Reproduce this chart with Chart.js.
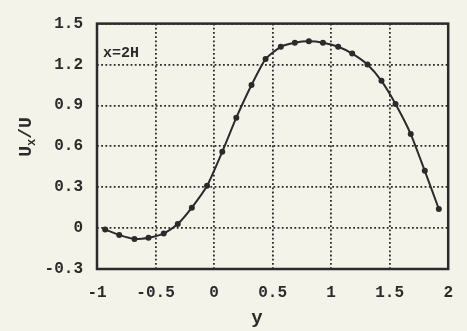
<!DOCTYPE html>
<html>
<head>
<meta charset="utf-8">
<script src="https://cdn.jsdelivr.net/npm/chart.js@4/dist/chart.umd.min.js"></script>
<style>
  html, body { margin: 0; padding: 0; background: #f3f3ea; }
  #wrap { width: 467px; height: 331px; }
</style>
</head>
<body>
<div id="wrap"><canvas id="profileChart" width="467" height="331"></canvas></div>
<script>
// profile at x=2H
const yPos = [-0.93, -0.81, -0.68, -0.56, -0.43, -0.31, -0.19, -0.06, 0.07, 0.19, 0.32, 0.44,
              0.57, 0.69, 0.81, 0.93, 1.06, 1.18, 1.31, 1.43, 1.55, 1.68, 1.80, 1.92];
const uRatio = [-0.01, -0.05, -0.08, -0.07, -0.04, 0.03, 0.15, 0.31, 0.56, 0.81, 1.05, 1.24,
                1.33, 1.36, 1.37, 1.36, 1.33, 1.28, 1.20, 1.08, 0.91, 0.69, 0.42, 0.14];
const xTicks = [-1, -0.5, 0, 0.5, 1, 1.5, 2];
const yTicks = [-0.3, 0, 0.3, 0.6, 0.9, 1.2, 1.5];
const caseLabel = "x=2H";

const ink = "#2b2b2b";
const font = "Liberation Mono";

// paper background + frame + the extra text
const paperPlugin = {
  id: "paper",
  beforeDraw(chart) {
    const c = chart.ctx;
    c.save();
    c.fillStyle = "#f3f3ea";
    c.fillRect(0, 0, chart.width, chart.height);
    c.restore();
  },
  afterDraw(chart) {
    const c = chart.ctx;
    const a = chart.chartArea;
    c.save();
    c.strokeStyle = ink;
    c.lineWidth = 2.5;
    c.strokeRect(a.left, a.top, a.right - a.left, a.bottom - a.top);

    c.fillStyle = ink;
    c.font = "bold 15px '" + font + "'";
    c.textBaseline = "alphabetic";
    c.fillText(caseLabel, a.left + 6, a.top + 33);

    // x axis title
    c.font = "bold 19px '" + font + "'";
    c.textAlign = "center";
    c.fillText("y", 257, 323);

    // y axis title U_x/U, rotated
    c.translate(31, 137);
    c.rotate(-Math.PI / 2);
    c.textAlign = "left";
    c.font = "bold 18px '" + font + "'";
    const wU = c.measureText("U").width;
    c.font = "bold 12px '" + font + "'";
    const wx = c.measureText("x").width;
    c.font = "bold 18px '" + font + "'";
    const total = wU * 2 + wx + c.measureText("/").width;
    let px = -total / 2;
    c.fillText("U", px, 0);
    px += wU;
    c.font = "bold 12px '" + font + "'";
    c.fillText("x", px, 4);
    px += wx;
    c.font = "bold 18px '" + font + "'";
    c.fillText("/U", px, 0);
    c.restore();
  }
};

const gridStyle = {
  color: ink,
  lineWidth: 1.8,
  drawTicks: false
};

new Chart(document.getElementById("profileChart"), {
  type: "line",
  data: {
    datasets: [{
      data: yPos.map((v, i) => ({ x: v, y: uRatio[i] })),
      borderColor: ink,
      backgroundColor: ink,
      borderWidth: 2,
      pointRadius: 3,
      pointBackgroundColor: ink,
      pointBorderWidth: 0,
      tension: 0.2,
      fill: false
    }]
  },
  plugins: [paperPlugin],
  options: {
    responsive: false,
    animation: false,
    layout: { padding: { left: 0, top: 14, right: 10, bottom: 0 } },
    plugins: { legend: { display: false }, tooltip: { enabled: false } },
    scales: {
      x: {
        type: "linear",
        min: -1, max: 2,
        afterBuildTicks(s) { s.ticks = xTicks.map(v => ({ value: v })); },
        afterFit(s) { s.height = 62; },
        border: { display: false, dash: [1.8, 2.4] },
        grid: gridStyle,
        ticks: {
          color: ink,
          padding: 14,
          maxRotation: 0,
          font: { family: font, size: 16, weight: "bold" },
          callback: v => String(v)
        }
      },
      y: {
        type: "linear",
        min: -0.3, max: 1.5,
        afterBuildTicks(s) { s.ticks = yTicks.map(v => ({ value: v })); },
        afterFit(s) { s.width = 97; },
        border: { display: false, dash: [1.8, 2.4] },
        grid: gridStyle,
        ticks: {
          color: ink,
          padding: 14,
          font: { family: font, size: 16, weight: "bold" },
          callback: v => v === 0 ? "0" : v.toFixed(1)
        }
      }
    }
  }
});
</script>
</body>
</html>
